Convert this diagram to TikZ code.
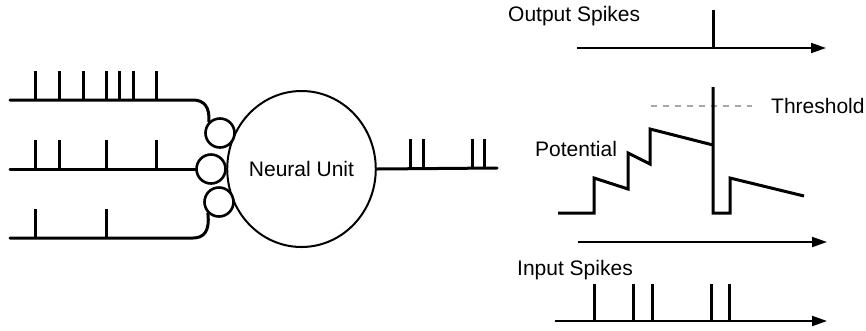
\documentclass[tikz,border=0pt]{standalone}
\usepackage{fontspec}
\setmainfont{Liberation Sans}
\usetikzlibrary{arrows.meta,shapes.geometric}

\tikzset{
  wire/.style={line width=3pt, line cap=round},
  spike/.style={line width=3pt},
  synapse/.style={circle, draw, line width=2.6pt, fill=white, minimum size=29pt, inner sep=0pt},
  neuron/.style={ellipse, draw, line width=2pt, minimum width=146pt, minimum height=156pt, inner sep=0pt},
  axis/.style={line width=2pt, -{Triangle[length=15pt,width=10pt]}},
  trace/.style={line width=3pt, line join=miter},
  label/.style={font=\fontsize{21}{25}\selectfont, inner sep=0pt},
}

\begin{document}
\begin{tikzpicture}[x=1pt,y=-1pt]
\useasboundingbox (0,0) rectangle (866,330);

% ---- neuron with three synapses ----
\node[neuron, label] (unit) at (301.5,169) {Neural Unit};
\node[synapse] (s1) at (220,133) {};
\node[synapse] (s2) at (211,169) {};
\node[synapse] (s3) at (219,202) {};

% input trains
\coordinate (in1) at (10,100);
\coordinate (in2) at (10,169);
\coordinate (in3) at (10,238);
\draw[wire] (in1) -- (193,100) .. controls (204,100) and (210,107) .. (s1.north west);
\draw[wire] (in2) -- (s2.west);
\draw[wire] (in3) -- (193,238) .. controls (204,238) and (210,231) .. (s3.south west);

\foreach \x in {35,59,83,106,119,133,156} \draw[spike] (\x,100) -- (\x,71);
\foreach \x in {35,59,106,156} \draw[spike] (\x,169) -- (\x,140);
\foreach \x in {35,106} \draw[spike] (\x,238) -- (\x,209);

% output train
\coordinate (out) at (497,168);
\draw[wire] (unit.east) -- (out);
\foreach \x in {410,423,472,484} \draw[spike] (\x,168) -- (\x,139);

% ---- timing plots ----
\node[label, anchor=west] (outlbl) at (508,16) {Output Spikes};
\coordinate (oa0) at (577,48);
\coordinate (oa1) at (826,48);
\draw[axis] (oa0) -- (oa1);
\draw[spike] (713,48) -- (713,10);

% threshold
\coordinate (th0) at (651,106);
\coordinate (th1) at (752,106);
\draw[gray!70, line width=1.5pt, dash pattern=on 6pt off 6pt] (th0) -- (th1);
\node[label, anchor=west] (thlbl) at (771,106) {Threshold};

% membrane potential
\node[label, anchor=west] (potlbl) at (535,149) {Potential};
\draw[trace] (558,213) -- (594,213) -- (594,178) -- (628,189) -- (628,153)
  -- (650,164) -- (650,129) -- (713,145);
\draw[trace] (713,87) -- (713,213) -- (730,213) -- (730,178) -- (804,196);

\coordinate (pa0) at (578,242);
\coordinate (pa1) at (827,242);
\draw[axis] (pa0) -- (pa1);

% input spikes
\node[label, anchor=west] (inlbl) at (517,270) {Input Spikes};
\coordinate (ia0) at (555,321);
\coordinate (ia1) at (827,321);
\draw[axis] (ia0) -- (ia1);
\foreach \x in {594,633,652,711,729} \draw[spike] (\x,321) -- (\x,284);

\end{tikzpicture}
\end{document}
